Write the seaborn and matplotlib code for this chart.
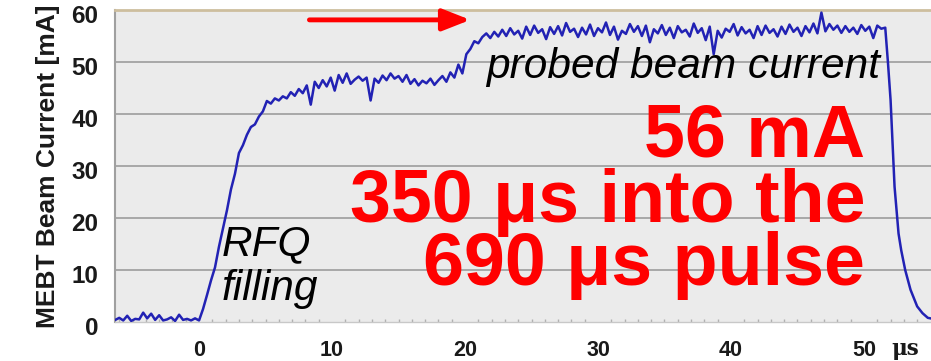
import numpy as np
import pandas as pd
import matplotlib
matplotlib.use("Agg")
import matplotlib.pyplot as plt
import matplotlib.transforms as mtransforms
import seaborn as sns

# ---- data ----
time_us = [
    -6.3, -6.0, -5.7, -5.4, -5.1, -4.8, -4.5, -4.2, -3.9, -3.6,
    -3.3, -3.0, -2.7, -2.4, -2.1, -1.8, -1.5, -1.2, -0.9, -0.6,
    -0.3, 0.0, 0.3, 0.6, 0.9, 1.2, 1.5, 1.8, 2.1, 2.4,
    2.7, 3.0, 3.3, 3.6, 3.9, 4.2, 4.5, 4.8, 5.1, 5.4,
    5.7, 6.0, 6.3, 6.6, 6.9, 7.2, 7.5, 7.8, 8.1, 8.4,
    8.7, 9.0, 9.3, 9.6, 9.9, 10.2, 10.5, 10.8, 11.1, 11.4,
    11.7, 12.0, 12.3, 12.6, 12.9, 13.2, 13.5, 13.8, 14.1, 14.4,
    14.7, 15.0, 15.3, 15.6, 15.9, 16.2, 16.5, 16.8, 17.1, 17.4,
    17.7, 18.0, 18.3, 18.6, 18.9, 19.2, 19.5, 19.8, 20.1, 20.4,
    20.7, 21.0, 21.3, 21.6, 21.9, 22.2, 22.5, 22.8, 23.1, 23.4,
    23.7, 24.0, 24.3, 24.6, 24.9, 25.2, 25.5, 25.8, 26.1, 26.4,
    26.7, 27.0, 27.3, 27.6, 27.9, 28.2, 28.5, 28.8, 29.1, 29.4,
    29.7, 30.0, 30.3, 30.6, 30.9, 31.2, 31.5, 31.8, 32.1, 32.4,
    32.7, 33.0, 33.3, 33.6, 33.9, 34.2, 34.5, 34.8, 35.1, 35.4,
    35.7, 36.0, 36.3, 36.6, 36.9, 37.2, 37.5, 37.8, 38.1, 38.4,
    38.7, 39.0, 39.3, 39.6, 39.9, 40.2, 40.5, 40.8, 41.1, 41.4,
    41.7, 42.0, 42.3, 42.6, 42.9, 43.2, 43.5, 43.8, 44.1, 44.4,
    44.7, 45.0, 45.3, 45.6, 45.9, 46.2, 46.5, 46.8, 47.1, 47.4,
    47.7, 48.0, 48.3, 48.6, 48.9, 49.2, 49.5, 49.8, 50.1, 50.4,
    50.7, 51.0, 51.3, 51.6, 51.8, 52.0, 52.3, 52.6, 52.8, 53.1,
    53.5, 54.0, 54.4, 54.8, 55.2,
]
current_mA = [
    0.4, 0.8, 0.3, 1.2, 0.2, 0.6, 0.5, 1.8, 0.7, 1.6,
    0.4, 1.3, 0.3, 0.5, 0.9, 0.2, 1.4, 0.4, 0.6, 0.3,
    0.7, 0.3, 2.5, 5.2, 8.0, 10.5, 14.5, 18.0, 21.5, 25.5,
    28.5, 32.5, 34.0, 36.0, 37.5, 38.0, 39.5, 40.5, 42.5, 42.0,
    43.0, 42.6, 43.4, 43.0, 44.2, 43.5, 44.8, 44.0, 45.5, 41.8,
    46.2, 45.0, 46.5, 45.3, 47.0, 44.5, 47.5, 46.0, 47.8, 45.8,
    46.6, 47.2, 46.4, 47.0, 42.6, 46.8, 46.0, 47.4, 46.5, 47.8,
    46.8, 47.3, 46.2, 47.5, 45.8, 46.7, 45.5, 46.4, 45.9, 46.8,
    45.6, 46.5, 47.3, 46.2, 48.0, 47.0, 49.5, 47.8, 51.5, 52.5,
    54.0, 53.6, 54.8, 55.5, 54.6, 55.8, 54.9, 56.2, 55.0, 56.5,
    55.3, 56.0, 54.5, 56.8, 55.2, 57.0, 55.6, 56.3, 54.4, 56.7,
    55.4, 56.9, 55.1, 57.5, 55.8, 56.4, 54.8, 56.6, 55.3, 57.2,
    55.0, 56.5, 55.7, 57.6, 55.2, 56.8, 54.3, 56.0, 55.4, 57.3,
    55.8, 56.9, 55.0, 57.0, 53.8, 56.3, 55.5, 57.1, 55.2, 56.6,
    54.6, 56.9, 55.7, 56.2, 54.9, 57.4, 55.6, 56.5, 54.2, 56.8,
    51.5, 56.0, 54.7, 56.4, 55.8, 57.3, 55.1, 56.7, 55.5, 56.2,
    54.6, 56.9, 55.2, 57.0, 55.6, 56.3, 54.9, 56.8, 55.4, 57.2,
    55.8, 56.6, 55.0, 56.9, 55.7, 57.4, 55.5, 59.5, 55.9, 57.3,
    56.2, 57.0, 55.6, 56.9, 55.8, 56.6, 55.4, 57.1, 56.0, 56.8,
    54.6, 57.0, 56.4, 56.6, 50.0, 42.7, 26.0, 17.0, 13.8, 10.0,
    6.2, 3.0, 1.7, 0.8, 0.6,
]
x_ticks = [0, 10, 20, 30, 40, 50]
y_ticks = [0, 10, 20, 30, 40, 50, 60]
y_label = "MEBT Beam Current [mA]"
red_lines = ["56 mA", "350 μs into the", "690 μs pulse"]

df = pd.DataFrame({"t": time_us, "I": current_mA})

sns.set_theme(style="white")
plt.rcParams["font.family"] = ["Liberation Sans", "DejaVu Sans"]

W, H = 931, 361
fig = plt.figure(figsize=(W / 100, H / 100), dpi=100)
fig.patch.set_facecolor("white")
ax = fig.add_axes([115 / W, 1 - 322 / H, 1 - 115 / W, (322 - 10) / H])
ax.set_facecolor("#EBEBEB")

for y in y_ticks[1:-1]:
    ax.axhline(y, color="#A8A8A8", lw=1.4, zorder=1)

sns.lineplot(data=df, x="t", y="I", ax=ax, color="#2222B4", lw=1.8,
             zorder=3, estimator=None, sort=False)

ax.set_xlim(-6.32, 55.04)
ax.set_ylim(0, 60)
ax.set_xticks(x_ticks)
ax.set_yticks(y_ticks)
ax.set_xticklabels([str(v) for v in x_ticks])
ax.set_yticklabels([str(v) for v in y_ticks])
ax.set_xticks(np.arange(-6, 55, 1), minor=True)
ax.tick_params(axis="both", which="major", length=0, colors="#1a1a1a")
ax.tick_params(axis="x", which="major", pad=13, labelsize=15.5)
ax.tick_params(axis="y", which="major", pad=12, labelsize=17.5)
ax.tick_params(axis="x", which="minor", length=2, color="#B0B0B0",
               direction="in", bottom=True)
for lab in ax.get_xticklabels() + ax.get_yticklabels():
    lab.set_fontweight("bold")
off = mtransforms.ScaledTranslation(0, -4 / 100, fig.dpi_scale_trans)
for lab in ax.get_yticklabels():
    lab.set_transform(lab.get_transform() + off)

ax.set_xlabel("")
ax.set_ylabel(y_label, fontsize=19, fontweight="bold", color="#1a1a1a",
              labelpad=8)

ax.spines["right"].set_visible(False)
ax.spines["top"].set_color("#CDBE9E")
ax.spines["top"].set_linewidth(2.0)
ax.spines["left"].set_color("#A0A0A0")
ax.spines["left"].set_linewidth(1.5)
ax.spines["bottom"].set_color("#C8C8C8")
ax.spines["bottom"].set_linewidth(1.0)

# "μs" unit after the 50 tick
ax.text(0.968, -0.085, "μs", transform=ax.transAxes, ha="center",
        va="center", fontsize=15.5, fontweight="bold", color="#1a1a1a",
        family=["DejaVu Serif"])

# red arrow
ax.annotate("", xy=(20.4, 58.1), xytext=(8.3, 58.1),
            arrowprops=dict(arrowstyle="-|>,head_length=1.4,head_width=0.55",
                            color="#FF0000", lw=3.5, shrinkA=0, shrinkB=0),
            zorder=5)

ax.text(21.6, 47.0, "probed beam current", style="italic", fontsize=30.5,
        color="black", ha="left", va="baseline", zorder=6)
ax.text(1.7, 12.8, "RFQ", style="italic", fontsize=30.5, color="black",
        ha="left", va="baseline", zorder=6)
ax.text(1.7, 4.2, "filling", style="italic", fontsize=30.5, color="black",
        ha="left", va="baseline", zorder=6)

red_y = [31.9, 19.3, 7.1]
for txt, yy in zip(red_lines, red_y):
    ax.text(50.1, yy, txt, fontsize=53, fontweight="bold", color="#FF0000",
            ha="right", va="baseline", zorder=6)

fig.savefig("out.png", dpi=100)
